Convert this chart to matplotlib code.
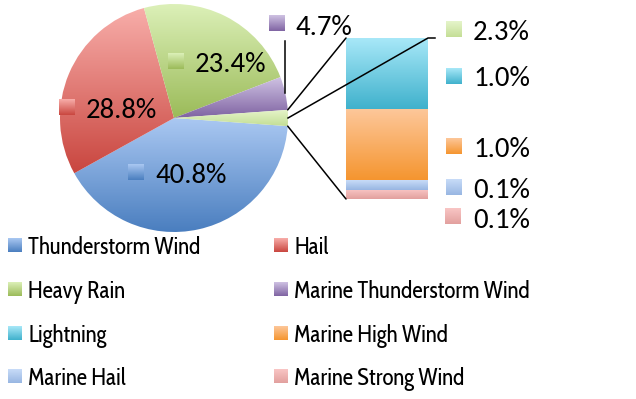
import numpy as np
import matplotlib
matplotlib.use("Agg")
import matplotlib.pyplot as plt
from matplotlib.colors import to_rgb
from matplotlib.patches import ConnectionPatch

# main pie
pie_labels = ['Thunderstorm Wind', 'Hail', 'Heavy Rain', 'Marine Thunderstorm Wind']
pie_values = [40.8, 28.8, 23.4, 4.7]
pie_colors = [('#aac8f2', '#4a7ebf'), ('#f8aeaa', '#c9463f'),
              ('#dcf0b8', '#9bbb59'), ('#cfc2e3', '#7f63a2')]
other_colors = ('#e6f5cb', '#c4de96')

# secondary bar (breakdown of the small slice)
bar_labels = ['Lightning', 'Marine High Wind', 'Marine Hail', 'Marine Strong Wind']
bar_values = [1.0, 1.0, 0.14, 0.13]
bar_colors = [('#a8e8f8', '#3fb1cc'), ('#fdc79a', '#f5952f'),
              ('#c8dcf8', '#98b6e2'), ('#f9c6c5', '#e2a09e')]

W, H = 636, 399
PCT_FONT = ['Carlito', 'Lato', 'DejaVu Sans']
LEG_FONT = ['Cabin Condensed', 'Roboto Condensed', 'Liberation Sans', 'DejaVu Sans']


def gradient(top, bottom, n=256):
    t = np.linspace(0, 1, n)[:, None, None]
    return (1 - t) * np.array(to_rgb(top)) + t * np.array(to_rgb(bottom))


def fill_gradient(ax, patch, bbox, colors):
    patch.set_facecolor('none')
    patch.set_edgecolor('none')
    im = ax.imshow(gradient(*colors), extent=(bbox.x0, bbox.x1, bbox.y0, bbox.y1),
                   origin='upper', aspect='auto', interpolation='bilinear', zorder=1)
    im.set_clip_path(patch)


fig = plt.figure(figsize=(W / 100, H / 100), dpi=100)

# pie of pie: the small slice is centred on the right-hand side
other_value = sum(bar_values)
values = pie_values + [other_value]
total = sum(values)
start = -other_value / total * 360 / 2

r_pix = 114 * 1.02
pax = fig.add_axes([(174 - r_pix) / W, 1 - (118 + r_pix) / H, 2 * r_pix / W, 2 * r_pix / H])
wedges, _ = pax.pie(values, counterclock=False, startangle=start, radius=1,
                    wedgeprops=dict(linewidth=0))
for w, c in zip(wedges, pie_colors + [other_colors]):
    fill_gradient(pax, w, w.get_path().get_extents(), c)
pax.set_xlim(-1.02, 1.02)
pax.set_ylim(-1.02, 1.02)
pax.set_aspect('equal')
pax.axis('off')

# stacked bar, first item on top
bax = fig.add_axes([346 / W, 1 - 199 / H, 82 / W, 161 / H])
bottom = 0
for v, c in zip(bar_values[::-1], bar_colors[::-1]):
    rect = bax.bar(0, v, bottom=bottom, width=1)[0]
    fill_gradient(bax, rect, rect.get_bbox(), c)
    bottom += v
bax.set_xlim(-0.5, 0.5)
bax.set_ylim(0, other_value)
bax.axis('off')

# overlay in pixel coordinates for labels and leader lines
ov = fig.add_axes([0, 0, 1, 1])
ov.set_xlim(0, W)
ov.set_ylim(H, 0)
ov.axis('off')


def to_ov(ax, xy):
    return ov.transData.inverted().transform(ax.transData.transform(xy))


def swatch(x, y, s, colors):
    ov.imshow(gradient(*colors), extent=(x, x + s, y + s, y), origin='upper',
              aspect='auto', interpolation='bilinear', zorder=3)


# connector lines from the small slice to the bar
ow = wedges[-1]
for ang, yb in [(ow.theta2, other_value), (ow.theta1, 0)]:
    a = np.deg2rad(ang)
    con = ConnectionPatch(xyA=(np.cos(a), np.sin(a)), coordsA=pax.transData,
                          xyB=(-0.5, yb), coordsB=bax.transData,
                          color='black', lw=1.1)
    fig.add_artist(con)

# leader for the small slice label
p = to_ov(pax, (1.0, 0.0))
tr = to_ov(bax, (0.5, other_value))
ov.plot([p[0], tr[0], tr[0] + 7], [p[1], tr[1], tr[1]], color='black', lw=1.1)

# leader for the purple slice label
mid = np.deg2rad((wedges[3].theta1 + wedges[3].theta2) / 2)
q = to_ov(pax, (np.cos(mid), np.sin(mid)))
ov.plot([q[0], q[0]], [q[1], 41], color='black', lw=1.1)

# data labels: swatch corner and text baseline
pct_pos = [(128, 164, 155, 183), (59, 99, 86, 118), (168, 53, 195, 72),
           (269, 15, 296, 35), (446, 21, 473, 40)]
for (sx, sy, tx, ty), v, c in zip(pct_pos, values, pie_colors + [other_colors]):
    swatch(sx, sy, 16, c)
    ov.text(tx, ty, f'{v:.1f}%', family=PCT_FONT, fontsize=20.7,
            va='baseline', ha='left', color='black')

bar_pos = [(446, 68, 473, 86), (446, 138, 473, 157), (446, 179, 473, 198), (445, 208, 473, 228)]
for (sx, sy, tx, ty), v, c in zip(bar_pos, bar_values, bar_colors):
    swatch(sx, sy, 16, c)
    ov.text(tx, ty, f'{v:.1f}%', family=PCT_FONT, fontsize=20.7,
            va='baseline', ha='left', color='black')

# legend, two columns
leg_labels = ['Thunderstorm Wind', 'Hail', 'Heavy Rain', 'Marine Thunderstorm Wind',
              'Lightning', 'Marine High Wind', 'Marine Hail', 'Marine Strong Wind']
leg_colors = [pie_colors[0], pie_colors[1], pie_colors[2], pie_colors[3],
              bar_colors[0], bar_colors[1], bar_colors[2], bar_colors[3]]
baselines = [254, 298, 342, 385]
cols = [(8, 28), (274, 294)]
for i, (lab, c) in enumerate(zip(leg_labels, leg_colors)):
    sx, tx = cols[i % 2]
    yb = baselines[i // 2]
    swatch(sx, yb - 16, 14, c)
    ov.text(tx, yb, lab, family=LEG_FONT, fontsize=16.6,
            va='baseline', ha='left', color='black')

ov.set_xlim(0, W)
ov.set_ylim(H, 0)

fig.savefig('out.png', dpi=100)
